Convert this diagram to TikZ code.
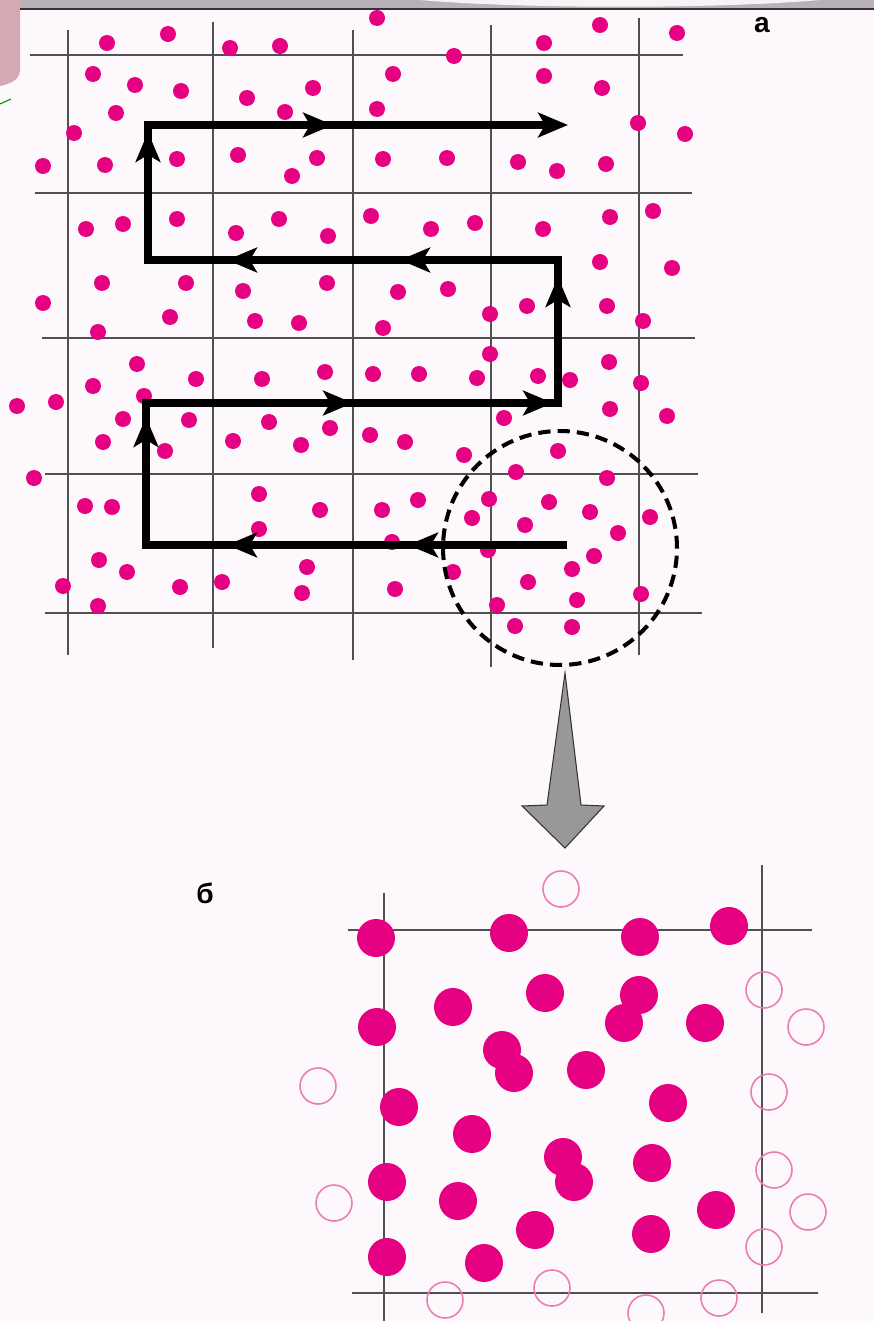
\documentclass[tikz,border=0pt]{standalone}
\usepackage{fontspec}
\setmainfont{Liberation Sans}
\usetikzlibrary{arrows.meta,calc}

\begin{document}
\begin{tikzpicture}[x=0.02cm,y=-0.02cm,
	gridline/.style={draw=gridgray,line width=1.3pt},
	dot/.style={fill=dotpink},
	bigdot/.style={fill=dotpink},
	ghost/.style={draw=ghostpink,line width=0.9pt},
	route/.style={line width=4.2pt,line join=miter},
	>={Stealth[length=17pt,width=14pt,inset=4pt]},
	letter/.style={font=\bfseries\fontsize{16}{18}\selectfont}]
	\definecolor{paper}{RGB}{253,248,252}
	\definecolor{bandgray}{RGB}{186,176,186}
	\definecolor{gridgray}{RGB}{80,80,80}
	\definecolor{dotpink}{RGB}{230,0,130}
	\definecolor{ghostpink}{RGB}{236,125,175}
	\definecolor{arrowgray}{RGB}{152,152,152}
	\definecolor{cornerpink}{RGB}{214,168,180}

	\useasboundingbox (0,0) rectangle (874,1321);
	\clip (0,0) rectangle (874,1321);
	\fill[paper] (0,0) rectangle (874,1321);

	% slide frame
	\fill[bandgray] (0,0) rectangle (874,8);
	\fill[white!85!bandgray] (420,0) .. controls (520,9) and (720,9) .. (820,0) -- cycle;
	\fill[cornerpink] (0,0) -- (20,0) -- (20,70) .. controls (20,80) and (10,84) .. (0,86) -- cycle;
	\draw[black!80,line width=1pt] (20,9) -- (874,9);
	\draw[green!55!black,line width=0.6pt] (0,104) -- (11,99);

	% upper grid
	\draw[gridline] (30,55) -- (683,55);
	\draw[gridline] (35,193) -- (692,193);
	\draw[gridline] (42,338) -- (695,338);
	\draw[gridline] (45,474) -- (698,474);
	\draw[gridline] (45,613) -- (702,613);
	\draw[gridline] (68,30) -- (68,655);
	\draw[gridline] (213,22) -- (213,648);
	\draw[gridline] (353,30) -- (353,660);
	\draw[gridline] (491,25) -- (491,667);
	\draw[gridline] (639,18) -- (639,655);

	% particles
	\foreach \x/\y in {107/43,168/34,230/48,280/46,93/74,135/85,181/91,247/98,313/88,
		116/113,285/112,74/133,43/166,105/165,177/159,238/155,292/176,317/158,
		86/229,123/224,177/219,236/233,279/219,328/236,102/283,186/283,243/291,327/283,
		43/303,170/317,255/321,299/323,98/332,
		377/18,600/25,677/33,544/43,454/56,393/74,544/76,602/88,377/109,638/123,685/134,
		383/159,447/158,518/162,557/171,606/164,371/216,431/229,475/223,543/229,610/217,653/211,
		600/262,672/268,398/292,448/289,527/306,490/314,607/306,643/321,383/328,
		137/364,93/386,196/379,262/379,325/372,17/406,56/402,144/396,
		123/419,189/420,269/422,330/428,103/442,165/451,233/441,301/445,34/478,
		85/506,112/507,259/494,320/510,259/529,99/560,127/572,307/567,
		63/586,180/587,222/582,302/593,98/606,
		490/354,609/362,373/374,419/374,477/378,538/376,570/380,641/383,
		504/418,610/409,667/416,370/435,405/442,464/455,558/451,516/472,607/478,
		382/510,418/500,489/499,549/502,590/512,650/517,472/518,525/525,618/533,
		392/542,488/550,594/556,453/572,572/569,395/589,528/582,577/600,641/594,
		497/605,515/626,572/627}
		\fill[dot] (\x,\y) circle [radius=0.16cm];

	% scan path
	\coordinate (start) at (567,545);
	\coordinate (c1) at (146,545);
	\coordinate (c2) at (146,403);
	\coordinate (c3) at (558,403);
	\coordinate (c4) at (558,260);
	\coordinate (c5) at (148,260);
	\coordinate (c6) at (148,125);
	\coordinate (finish) at (568,125);
	\draw[route,->] (start) -- (c1) -- (c2) -- (c3) -- (c4) -- (c5) -- (c6) -- (finish);

	\coordinate (t1) at (408,545);
	\coordinate (t2) at (227,545);
	\coordinate (t3) at (146,417);
	\coordinate (t4) at (353,403);
	\coordinate (t5) at (553,403);
	\coordinate (t6) at (558,277);
	\coordinate (t7) at (400,260);
	\coordinate (t8) at (227,260);
	\coordinate (t9) at (148,132);
	\coordinate (t10) at (333,125);
	\foreach \t in {t1,t2,t7,t8}
		\draw[route,->] ($(\t)+(30,0)$) -- (\t);
	\foreach \t in {t4,t5,t10}
		\draw[route,->] ($(\t)+(-30,0)$) -- (\t);
	\foreach \t in {t3,t6,t9}
		\draw[route,->] ($(\t)+(0,30)$) -- (\t);

	% magnified region
	\coordinate (ring) at (560,548);
	\draw[line width=2.3pt,dash pattern=on 7pt off 4pt] (ring) circle [radius=2.34cm];
	\filldraw[fill=arrowgray,draw=black!80,line width=0.6pt]
		(565,673) -- (581,805) -- (604,806) -- (565,848) -- (522,806) -- (547,805) -- cycle;

	\node[letter] (labela) at (762,25) {а};
	\node[letter] (labelb) at (205,893) {б};

	% lower grid
	\draw[gridline] (348,930) -- (812,930);
	\draw[gridline] (352,1293) -- (818,1293);
	\draw[gridline] (384,893) -- (384,1321);
	\draw[gridline] (762,865) -- (762,1313);

	\foreach \x/\y in {376/938,509/933,640/937,729/926,377/1027,453/1007,545/993,639/995,
		624/1023,705/1023,502/1050,514/1073,586/1070,399/1107,668/1103,472/1134,
		563/1157,574/1182,652/1163,387/1182,458/1201,535/1230,716/1210,651/1234,
		387/1257,484/1263}
		\fill[bigdot] (\x,\y) circle [radius=0.38cm];
	\foreach \x/\y in {561/889,764/990,806/1027,318/1086,769/1092,334/1203,774/1170,
		808/1212,764/1247,445/1300,552/1288,646/1313,719/1298}
		\draw[ghost] (\x,\y) circle [radius=0.36cm];
\end{tikzpicture}
\end{document}
